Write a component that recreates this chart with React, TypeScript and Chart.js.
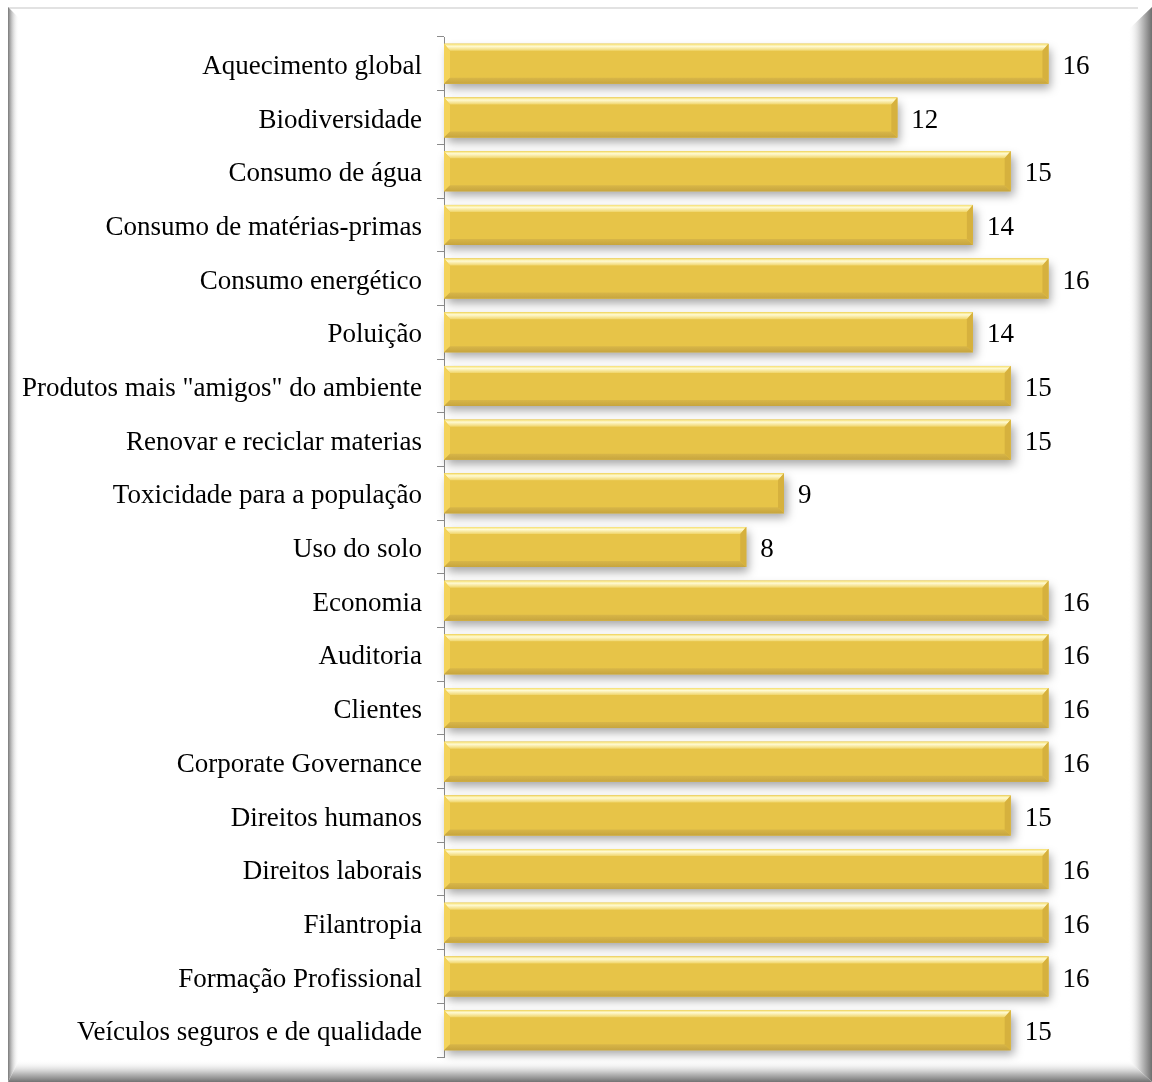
import React, { useEffect, useRef } from "react";
import { Chart, registerables } from "chart.js";

Chart.register(...registerables);

const categories: string[] = [
  "Aquecimento global",
  "Biodiversidade",
  "Consumo de água",
  "Consumo de matérias-primas",
  "Consumo energético",
  "Poluição",
  'Produtos mais "amigos" do ambiente',
  "Renovar e reciclar materias",
  "Toxicidade para a população",
  "Uso do solo",
  "Economia",
  "Auditoria",
  "Clientes",
  "Corporate Governance",
  "Direitos humanos",
  "Direitos laborais",
  "Filantropia",
  "Formação Profissional",
  "Veículos seguros e de qualidade",
];

const values: number[] = [16, 12, 15, 14, 16, 14, 15, 15, 9, 8, 16, 16, 16, 16, 15, 16, 16, 16, 15];

const FONT = "'Liberation Serif', 'Times New Roman', serif";

const framePlugin = {
  id: "frame",
  beforeDraw(chart: any) {
    const { ctx, width, height } = chart;
    ctx.save();
    ctx.fillStyle = "#ffffff";
    ctx.fillRect(0, 0, width, height);
    // top thin line
    ctx.fillStyle = "#e2e2e2";
    ctx.fillRect(8, 7, width - 22, 2);
    // left shadow
    let g = ctx.createLinearGradient(8, 0, 19, 0);
    g.addColorStop(0, "rgba(120,120,120,1)");
    g.addColorStop(1, "rgba(255,255,255,0)");
    ctx.fillStyle = g;
    ctx.beginPath();
    ctx.moveTo(8, 7);
    ctx.lineTo(19, 18);
    ctx.lineTo(19, height - 22);
    ctx.lineTo(8, height);
    ctx.closePath();
    ctx.fill();
    // right shadow
    g = ctx.createLinearGradient(width - 24, 0, width, 0);
    g.addColorStop(0, "rgba(255,255,255,0)");
    g.addColorStop(0.5, "rgba(205,205,205,1)");
    g.addColorStop(1, "rgba(110,110,110,1)");
    ctx.fillStyle = g;
    ctx.beginPath();
    ctx.moveTo(width - 24, 30);
    ctx.lineTo(width, 7);
    ctx.lineTo(width, height);
    ctx.lineTo(width - 24, height - 22);
    ctx.closePath();
    ctx.fill();
    // bottom shadow
    g = ctx.createLinearGradient(0, height - 22, 0, height);
    g.addColorStop(0, "rgba(255,255,255,0)");
    g.addColorStop(0.5, "rgba(210,210,210,1)");
    g.addColorStop(1, "rgba(115,115,115,1)");
    ctx.fillStyle = g;
    ctx.beginPath();
    ctx.moveTo(19, height - 22);
    ctx.lineTo(width - 24, height - 22);
    ctx.lineTo(width, height);
    ctx.lineTo(8, height);
    ctx.closePath();
    ctx.fill();
    ctx.restore();
  },
};

const bevelPlugin = {
  id: "bevel",
  beforeDatasetsDraw(chart: any) {
    const { ctx } = chart;
    const meta = chart.getDatasetMeta(0);
    ctx.save();
    ctx.shadowColor = "rgba(0,0,0,0.35)";
    ctx.shadowBlur = 9;
    ctx.shadowOffsetX = 3;
    ctx.shadowOffsetY = 5;
    ctx.fillStyle = "#d9b545";
    meta.data.forEach((el: any) => {
      const p = el.getProps(["x", "y", "base", "height"], true);
      ctx.fillRect(p.base, p.y - p.height / 2, p.x - p.base, p.height);
    });
    ctx.restore();
  },
  afterDatasetsDraw(chart: any) {
    const { ctx } = chart;
    const meta = chart.getDatasetMeta(0);
    const data = chart.data.datasets[0].data;
    ctx.save();
    meta.data.forEach((el: any, i: number) => {
      const p = el.getProps(["x", "y", "base", "height"], true);
      const x0 = p.base;
      const x1 = p.x;
      const y0 = p.y - p.height / 2;
      const y1 = p.y + p.height / 2;
      const bt = 7;
      const bs = 6;
      // top bevel
      const gt = ctx.createLinearGradient(0, y0, 0, y0 + bt);
      gt.addColorStop(0, "#f5de6c");
      gt.addColorStop(0.35, "#fffad2");
      gt.addColorStop(1, "#f0d56a");
      ctx.fillStyle = gt;
      ctx.beginPath();
      ctx.moveTo(x0, y0);
      ctx.lineTo(x1, y0);
      ctx.lineTo(x1 - bs, y0 + bt);
      ctx.lineTo(x0 + bs, y0 + bt);
      ctx.closePath();
      ctx.fill();
      // left bevel
      ctx.fillStyle = "#f4d35a";
      ctx.beginPath();
      ctx.moveTo(x0, y0);
      ctx.lineTo(x0 + bs, y0 + bt);
      ctx.lineTo(x0 + bs, y1 - bs);
      ctx.lineTo(x0, y1);
      ctx.closePath();
      ctx.fill();
      // bottom bevel
      const gb = ctx.createLinearGradient(0, y1 - bs, 0, y1);
      gb.addColorStop(0, "#d8b648");
      gb.addColorStop(1, "#c7a53e");
      ctx.fillStyle = gb;
      ctx.beginPath();
      ctx.moveTo(x0, y1);
      ctx.lineTo(x0 + bs, y1 - bs);
      ctx.lineTo(x1 - bs, y1 - bs);
      ctx.lineTo(x1, y1);
      ctx.closePath();
      ctx.fill();
      // right bevel
      ctx.fillStyle = "#d6b13e";
      ctx.beginPath();
      ctx.moveTo(x1, y0);
      ctx.lineTo(x1, y1);
      ctx.lineTo(x1 - bs, y1 - bs);
      ctx.lineTo(x1 - bs, y0 + bt);
      ctx.closePath();
      ctx.fill();
      // value label
      ctx.fillStyle = "#000000";
      ctx.font = `27px ${FONT}`;
      ctx.textAlign = "left";
      ctx.textBaseline = "middle";
      ctx.fillText(String(data[i]), x1 + 14, p.y + 3);
    });
    ctx.restore();
  },
};

export default function App() {
  const ref = useRef<HTMLCanvasElement>(null);

  useEffect(() => {
    document.body.style.margin = "0";
    const canvas = ref.current;
    if (!canvas) return;
    const chart = new Chart(canvas, {
      type: "bar",
      data: {
        labels: categories,
        datasets: [
          {
            data: values,
            backgroundColor: "#e7c448",
            borderWidth: 0,
            categoryPercentage: 1,
            barPercentage: 0.745,
          },
        ],
      },
      options: {
        indexAxis: "y",
        animation: false,
        responsive: false,
        maintainAspectRatio: false,
        layout: { padding: { top: 37, bottom: 25, left: 0, right: 28 } },
        plugins: {
          legend: { display: false },
          tooltip: { enabled: false },
        },
        scales: {
          x: {
            display: false,
            min: 0,
            max: 18,
          },
          y: {
            afterFit: (scale: any) => {
              scale.width = 444;
              scale.paddingTop = 0;
              scale.paddingBottom = 0;
            },
            border: { display: true, color: "#8c8c8c", width: 1 },
            grid: {
              drawOnChartArea: false,
              drawTicks: true,
              tickLength: 7,
              color: "#8c8c8c",
              offset: true,
            },
            ticks: {
              color: "#000000",
              padding: 15,
              labelOffset: 3,
              font: { family: FONT, size: 27 },
              autoSkip: false,
            },
          },
        },
      },
      plugins: [framePlugin, bevelPlugin],
    });
    return () => chart.destroy();
  }, []);

  return (
    <div style={{ width: 1152, height: 1082 }}>
      <canvas ref={ref} width={1152} height={1082} style={{ display: "block" }} />
    </div>
  );
}
